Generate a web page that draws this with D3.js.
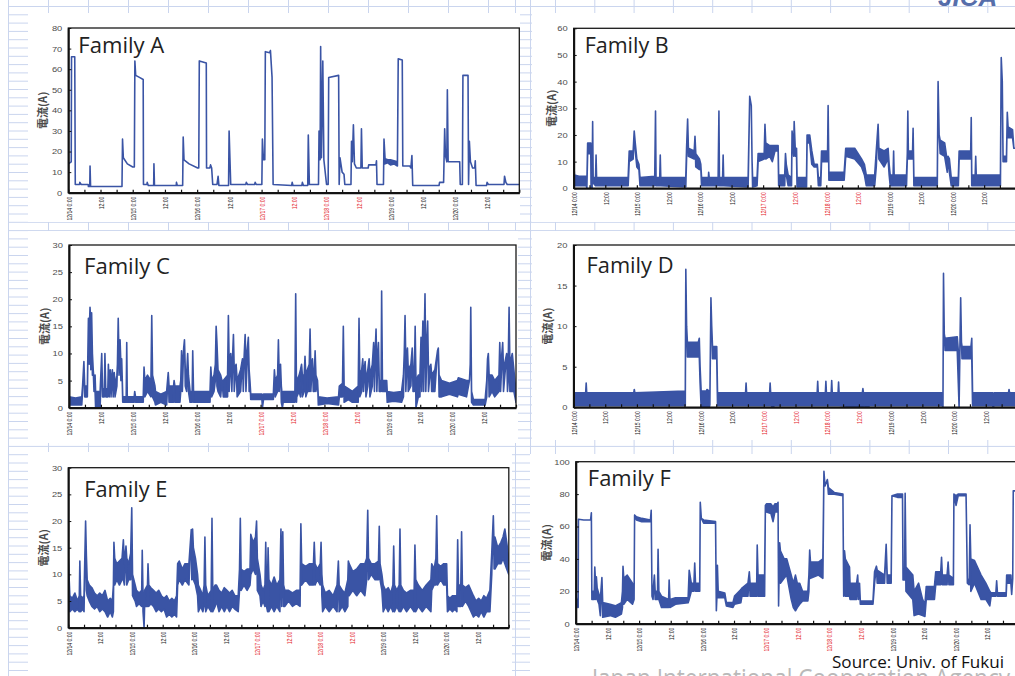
<!DOCTYPE html>
<html>
<head>
<meta charset="utf-8">
<script src="https://cdn.jsdelivr.net/npm/d3@7"></script>
<style>
  html, body { margin: 0; padding: 0; background: #fff; }
  svg { display: block; }
</style>
</head>
<body>
<svg id="chart" width="1015" height="676"></svg>
<script>
// Hours since 12/14 0:00; one labelled tick every 12 hours
const labelHours = [0, 12, 24, 36, 48, 60, 72, 84, 96, 108, 120, 132, 144, 156];
const tickLabels = ["12/14 0:00", "12:00", "12/15 0:00", "12:00", "12/16 0:00", "12:00",
                    "12/17 0:00", "12:00", "12/18 0:00", "12:00", "12/19 0:00", "12:00",
                    "12/20 0:00", "12:00"];
const weekendHours = [72, 84, 96, 108];

// Current readings, [hour, low, high]; a single value means low = high
const famA = [[0,14],[1.1,15],[1.2,66],[2.4,66],[2.6,4],[4.2,4],[4.3,5],[4.8,4],[7.4,4],[7.5,3],[8.0,3],[8.1,13],[8.3,3],
  [20.0,3],[20.2,26],[20.5,17],[22,14],[24,12.5],[24.6,12.5],[24.8,64],[25.1,57],[26.5,56],[27.9,55],[28.0,4],
  [29.3,4],[29.4,5],[29.8,3.5],[31.8,3.5],[31.9,14],[32.1,3.5],[40.2,3.5],[40.3,5],[40.6,3.5],[42.6,3.5],[42.8,27],
  [43.1,16],[45,14],[48.2,12],[48.6,12],[48.8,64],[51.4,63],[51.5,12],[52.7,12],[53,13.5],[53.4,12],[53.8,4],
  [55.4,4],[55.8,8],[56.1,3.5],[59.7,3.5],[59.9,30],[60.2,17],[60.5,4],[66.1,4],[66.3,5],[66.8,4],[69.4,4],[69.6,5],
  [70,4],[72.1,4],[72.3,26],[72.7,16],[73.2,16],[73.4,68.5],[75,68],[75.3,69],[75.9,56],[76.3,4],[83.2,3.5],[83.4,5],
  [83.7,3.5],[87,3.5],[87.2,5],[87.6,3.5],[89.2,3.5],[89.4,28],[89.8,4],[93.2,4],[93.4,30],[93.8,16],[94.0,71],
  [94.3,17],[94.8,64],[95.2,16],[96.2,4],[96.8,4],[97.0,56],[100.7,57],[100.9,4],[101.2,17],[102.0,10],[102.7,9],
  [103.0,4],[105.3,4],[105.5,25],[105.8,15],[106.2,33],[106.6,14],[107.3,12],[109.0,12],[109.2,31],[109.5,12],
  [111.7,12],[111.9,13.5],[114.6,13.5],[114.8,15.5],[115.0,4],[117.4,4],[117.6,26],[118.0,14,16.5],[119,14.5,16],
  [120,13.5,16],[121.3,14,15.5],[122.6,13,15],[122.9,65],[124.4,64.5],[124.6,13],[127.2,13],[127.6,12],[128.0,18],
  [128.3,3.5],[138.1,3.5],[138.3,5],[139.8,5],[140.2,31],[140.5,18],[141.0,15],[141.2,50],[141.5,15],[145.8,15],
  [146.0,4],[146.8,4],[147.0,57],[148.9,57],[149.1,4],[149.4,25],[149.8,15],[150.6,12],[151.4,12],[151.6,15.5],
  [151.9,3.5],[155.8,3.5],[156.0,5],[156.5,4],[162.3,4],[162.5,8],[163,5],[163.5,4],[168,4]];

const famB = [[0,5,10],[0.3,1,5],[2,1,4.5],[4.8,1,4.5],[5.0,0,2],[5.3,13,17],[6.5,13,17],[6.6,0,1],[7.0,0,3],[7.2,25],
  [7.4,2,4],[8.3,1,4],[8.5,12.5],[8.7,1,4],[14,1,4],[20.7,1,4],[21.1,10,14],[22.6,11,14],[23.0,21.5],[23.4,14,17],
  [24.0,8,11],[24.8,7,9],[25.2,1,4],[30.8,1,4.5],[31.1,29],[31.3,1,4],[32.7,1,4],[32.9,12.5],[33.1,1,4],[42.6,0.5,4],
  [42.9,11,15],[43.3,26],[43.6,12,15],[45.8,11,14],[46.1,19.5],[46.4,8,13],[47.8,7,11],[48.3,8,9],[48.6,1,4],
  [51.2,1,4],[51.3,6],[51.5,1,4],[54.9,1,4],[55.2,29],[55.4,1,4],[56.6,1,4],[56.8,12.5],[57,1,4],[66.3,0.5,4],
  [66.9,34.5],[67.5,31],[67.8,10],[68.0,0.5,4],[69.7,1,4],[70.1,10,13],[72.4,11,13],[72.7,24],[73.0,11,17],
  [74.5,12,16],[75.5,10,16],[76.5,14,16],[77.7,14,16],[77.9,1,5],[80.2,1,5],[80.5,13],[80.8,5,9],[81.5,1,5],
  [82.8,1,4],[83.0,21.5],[83.6,12,15],[83.8,25],[84.2,12,15],[84.7,12,15],[84.9,0.5,4],[88.5,0.5,4],[88.7,17,20],
  [89.7,17,20],[90.5,9,14],[91.4,8,9],[92.6,8,9],[93,1,4],[93.9,1,4],[94.2,10,14],[96.5,10,14],[96.7,31],[97.0,3,6],
  [102.8,3,6],[103.4,12,15],[106.8,11,15],[109.4,8,11],[110.5,5,9],[111.2,1,5],[114.4,1,5],[115,8,14],[115.7,24],
  [116,11,15],[118,8,14],[119.5,11,15],[119.9,5,9],[120.3,1,5],[121.4,1,5],[121.6,14],[121.8,1,5],[126.5,1,5],
  [126.8,11,13],[127.0,29],[127.2,11,14],[128.8,11,14],[129.0,22.5],[129.3,1,4],[138.2,1,4],[138.5,40],[138.9,20],
  [139.3,13,18],[141,12,17],[142.0,6,10],[142.3,12],[142.8,6,11],[143.5,1,4],[146.2,1,4],[146.5,11,14],[150.9,11,14],
  [151.1,26.5],[151.3,1,5],[152.6,1,5],[152.8,12],[153.0,1,5],[162.2,1,5],[162.5,49],[162.9,40],[163.2,10,12],
  [164.5,10,12],[164.8,28.5],[165.1,19,23],[166.8,19,22],[167.3,15],[168,15]];

const famC = [[0,0.5,2],[2.5,0.5,1.8],[4.8,0.5,2],[5.1,3,4],[5.6,8.5],[5.9,2,4],[6.9,2,4],
  [7.3,16.5],[7.6,8,14],[7.9,18.5],[8.2,7,16],[8.5,17.5],[8.8,6,10],[9.1,7],[9.4,3,5],[9.8,3,6],[10.0,0,3],[11.7,0,3],
  [12.3,10],[12.6,2,3.5],[13.3,2,3.5],[13.5,10],[13.8,2,3.5],[14.6,2,3.5],[14.8,8],[15.1,2,4],[15.5,7],[15.8,2,4],
  [16.3,7],[16.6,2,4],[17.0,6.5],[17.3,2,4],[18.0,4,6],[18.2,8],[18.5,16.5],[18.8,6,9],[19.2,12.5],[19.5,5,8],[19.8,9],
  [20.2,1,2],[21.5,1,2],[21.7,12],[21.9,1,2],[24.5,1,2],[24.7,3],[25,1,2],[27.9,1,2],
  [28.2,7.5],[28.5,2,5],[29.5,3,6],[30.8,2,5],[31.1,17],[31.4,2,6],[32.3,1,4],[32.5,0.5,3],[34.5,1,2.5],[36.7,0.5,3],
  [37.3,6.5],[37.6,1,4],[39.3,1,4],[39.5,5],[39.8,1,4],[41.7,1,4],
  [42.0,3,5],[42.3,10.5],[42.6,3,6],[43.1,11],[43.4,12.5],[43.7,4,7],[44.2,3,6],[44.6,10],[44.9,3,6],[45.5,1,3],
  [46.3,1,3],[46.5,10.5],[46.8,1,3],[53,1,3],
  [53.3,7.5],[53.6,2,5],[54.5,3,6],[55,5,8],[55.3,15],[55.6,4,12],[56,3,7],[57,2,6],[57.5,5],[58,2,5],[59.6,2,6],
  [59.9,17],[60.2,3,8],[60.8,10],[61.2,3,6],[61.8,13.5],[62.1,3,7],[62.8,8],[63.2,2,5],[64.5,3,7],[65.2,9],[65.5,3,6],
  [66.2,13.5],[66.5,3,8],[67.4,13],[67.7,3,7],[68,5],
  [68.3,1.5,2.5],[72.5,1.5,2.5],[72.7,0,2],[73.1,1.5,2.5],[76.8,1.5,2.5],
  [77.2,7],[77.5,2,5],[78.4,3,6],[78.7,12.5],[79,3,6],[79.5,8],[79.8,1,4],[80.2,0,2],[80.5,1,3],[84.9,1,3],[85.2,21],
  [85.5,1,3],[85.6,2,5],[86.5,3,6],[87.0,2,7],[87.4,8],[87.7,2,6],[88.4,3,6],[88.7,9.5],[89,2,6],[89.6,3,7],[90.3,3,8],
  [90.6,14.5],[90.9,3,7],[91.5,9],[91.8,3,6],[92.2,3,6],[92.5,10.5],[92.8,3,6],[93.4,5],
  [93.7,0.5,2],[97,0.8,1.8],[101.3,0.5,2],
  [101.6,2,4],[102.8,2,4.5],[103.1,15],[103.4,1,4],[105,1.5,3.5],[106.5,1,3],[108.7,1,4],[109,16.5],[109.3,2,6],
  [110,3,7],[110.4,9],[110.7,3,6],[111.3,8.5],[111.6,2,5],[112.3,4,7],[112.8,9],[113.1,2,6],[114,4,8],[114.5,12],
  [114.8,3,7],[115.4,14.5],[115.7,3,7],[116.3,12],[116.6,3,5],[117.3,3,5],[117.5,21.5],[117.8,3,5],[119.4,3,5],
  [119.6,1,3],[122,1.2,2.8],[125,1,3],
  [125.7,2,6],[126.0,10],[126.3,17],[126.6,3,8],[127.2,11],[127.5,3,7],[128.5,4,8],[129,11],[129.3,3,7],[129.8,3,6],
  [130.1,15],[130.4,0,5],[131.3,2,6],[131.9,2,6],[132.3,13],[132.6,3,7],[133.0,16],[133.3,3,7],[133.8,21],[134.1,3,8],
  [134.8,16],[135.1,3,7],[136,8],[136.3,3,6],[137.5,3,7],[138.5,10.5],[138.8,11],[139.1,2,6],[140,2,5],
  [143,2.5,4.5],[146,2,5],[146.3,2.5,5.5],[149.4,2,5],
  [150.5,5],[150.8,8],[151,18.5],[151.3,1,3],[152,0.5,1.5],[156.4,0.5,1.5],
  [157,2,5],[157.3,9],[157.6,10],[157.9,2,6],[159,3,6],[160,2,5],[161.6,3,6],[161.9,12],[162.2,3,7],[163.0,12],
  [163.3,3,7],[164.5,10],[164.8,3,7],[165.1,5,9],[165.4,18.5],[165.7,3,8],[166.6,3,10],[167.2,3,7],[168,1,3]];

const famD = [[0,0.2,1.8],[4.6,0.2,1.8],[4.8,0.2,3],[5.0,0.2,1.8],[22.8,0.2,1.8],[23.0,0.2,2.2],[23.2,0.2,1.8],
  [42.3,0.2,2],[42.5,17],[42.8,10],[43.1,6.2,8],[47.2,6.2,8],[47.6,6.2,8.5],[47.9,3,5],[48.3,0,2],[50.3,0,2],
  [50.5,0,2.2],[51.4,0,2],[51.6,0.3,1],[52,13.5],[52.3,10],[52.6,6,7.5],[54.2,6,7.5],[54.5,0.2,1.8],[65.1,0.2,1.8],
  [65.3,0.2,3],[65.5,0.2,1.8],[74.2,0.2,1.8],[74.4,0.2,3],[74.6,0.2,1.8],[75.6,0,1.8],[76,0.2,1.8],[92.2,0.2,1.8],
  [92.4,0.2,3.2],[92.6,0.2,1.8],[95.3,0.2,1.8],[95.5,0.2,3.2],[95.7,0.2,1.8],[97.5,0.2,1.8],[97.7,0.2,3.3],
  [97.9,0.2,1.8],[100.1,0.2,1.8],[100.3,0.2,3.1],[100.5,0.2,1.8],[109.3,0,1.8],[109.5,0,2.3],[109.7,0.2,1.8],
  [111.6,0,1.8],[112,0.2,1.8],[139.5,0.2,1.8],[139.8,0,1],[140,16.5],[140.3,9],[140.6,7,8.5],[145.2,7,8.7],
  [145.6,3,7],[145.9,0,1],[146.5,13.5],[146.8,8],[147,6,7.5],[150.4,6,7.5],[150.7,6,8.5],[151,0.2,1.8],
  [158.6,0.2,1.8],[158.8,0,1.5],[159.2,0.2,1.8],[164.6,0.2,1.8],[164.8,0.2,2.2],[165,0.2,1.8],[168,0.2,1.8]];

const famE = [[0,8,13],[0.6,3,6],[1.5,3.5,5.5],[2.5,3,6.5],[3.5,3.5,5],[4.2,3,6],[4.4,12.5],[4.7,3,6],[5.5,3.5,5.5],
  [6.0,3,6],[6.6,20],[6.9,7,13.5],[7.2,6,9],[8,5,8],[9,4,7.5],[10,3.5,6.5],[11,4,6],[12,3,6.5],[13,3.5,6],[14,3,7],
  [15,2,5],[16,3,5.5],[16.8,2,5],[17.2,3,8],[17.4,16],[17.7,8,13],[18.5,9,12],[19.5,8,12.5],[20.5,9,13],[21,9,16.5],
  [21.4,8,12],[22,15.3],[22.3,8,13],[23,9,12],[23.8,9,14],[24.2,22.5],[24.5,6,10],[25.5,5,8],[26,4,7],[27,4.5,6.5],
  [28.0,4,7],[28.2,14.5],[28.5,3,6],[28.9,0],[29.1,4,7],[30.2,4,8],[30.4,12],[30.7,4,8],[31.5,4.5,7.5],[32.5,4,7],
  [33.5,3,6.5],[34.5,3.5,7],[35.5,3,6],[36.5,3.5,5.5],[37.5,2,6],[38.5,2.5,5],[39.5,2,5.5],[40.5,2.5,5],[41.3,2,6],
  [41.7,8,12],[42.3,9,12.5],[43.5,8,11],[44.5,9,12],[46.0,8,12],[46.9,18.4],[47.1,9,14],[47.4,18.5],[47.7,9,15],
  [48.5,8,13],[49.3,6,10],[49.6,3,8],[50.5,4,7],[51.3,3,6],[51.8,4,8],[52.1,17],[52.4,3,8],[53.2,4,6],[54.5,3,7],
  [54.8,20.5],[55.1,3,7],[56,4,8],[56.5,5,8],[57.5,3,7],[58.5,4,6.5],[59.5,3,7.5],[60.5,4,7],[61.5,3,6.5],[62.5,4,7],
  [63.5,3.5,6],[64.8,3,6],[65.3,7,11],[65.6,20.5],[65.9,7,11],[67,8,10.5],[68.2,7,11],[69.3,8,11],[69.6,10,17.5],
  [70.5,11,16],[71.4,10,17],[71.8,20],[72.1,7,13],[73.1,6,10],[73.5,4,8],[74.3,5,7],[75.0,4,8],[75.3,16],[75.6,4,8],
  [76.0,3,9],[76.2,15],[76.5,3,9],[77.5,4,8],[78.5,3,9.5],[79.5,4,8],[80.7,3,9],[81.1,18.5],[81.4,4,10],[81.8,18],
  [82.1,4,8],[82.6,4,7],[84,5,7],[85.5,4,6.5],[87,4.5,7],[88.4,4,7],[88.7,19.5],[89,8,12],[90.5,9,11.5],[92,8,12],
  [93.5,8,12],[93.8,16],[94.1,8,12],[95,9,11],[96.1,8,12],[96.4,16],[96.7,6,10],[97,3,8],[98,4,6.5],[99.5,3,7],
  [101,4,6],[102.5,3,8],[103,12.5],[103.3,3,8],[104.5,4,7],[105.5,3,6.5],[106.6,4,9],[106.8,12.5],[107.1,6,12],
  [108.5,7,10.5],[110,6,11],[111.5,7,12],[113.1,6,12],[113.8,9,13],[114.2,22],[114.5,9,13],[115.5,10,12],[117,9,12],
  [118.3,9,12.5],[118.6,19],[118.9,9,12],[119.6,7,10],[120.1,3,8],[121,4,7],[122,3,7.5],[123,4,6.5],[123.8,3,8],
  [124.1,15.3],[124.4,3,8],[125.3,4,7],[126.2,3,8],[126.5,18.5],[126.8,3,8],[127.8,4,7],[129,3,6.5],[130.5,4,7],
  [131.9,3,7],[132.2,15.5],[132.5,3,9],[133.5,4,8],[135,3,7],[136.5,4,8],[138.3,3,9],[138.6,7,12],[139.5,8,11],
  [140.2,8,13],[140.5,21],[140.8,8,12],[142,9,11.5],[143.2,8,12],[144.3,8,12],[144.6,3,6],[145.5,3.5,5.5],[146.5,3,6],
  [147.4,3.5,6],[148.2,3,6],[148.5,16.5],[148.8,4,8],[149.7,4,8],[150.0,18],[150.3,4,8],[151.5,5,7.5],[152.7,4,8],
  [154.5,2,6],[155.5,2.5,5],[156.5,2,5.5],[157.5,3,5],[158.5,2,6],[159.5,3,5.5],[160.8,3,7],[161.5,10,14],[162.1,21],
  [162.4,11,15],[162.7,11,17],[163.8,12,15],[165,12,16],[165.8,13,17],[166.5,12,18.5],[167.2,11,16],[168,10,13]];

const famF = [[0,16,18],[0.8,10],[0.9,10],[1.0,64.5],[3,64],[5.6,64],[5.9,68.5],[6.1,15],[6.5,15,20],[7.0,15,20],
  [7.2,35],[7.5,15,25],[7.8,29],[8.1,15,22],[8.8,12,18],[9.3,5,15],[9.9,28.5],[10.2,4,13],[13,5,12],[15,4,11],
  [17.3,6,13],[17.7,10,20],[17.9,35.5],[18.2,12,28],[19.5,15,30],[21.5,12,25],[22.1,15],[22.3,67],[23,64,66],
  [25,63,65],[28.3,63,64],[28.6,70],[28.9,17],[29.3,15,20],[29.8,30],[30.1,15,20],[31,15,20],[31.2,46],[31.5,15,20],
  [32.5,10,17],[35.2,10,15],[35.4,27],[35.7,10,15],[37.8,12,16],[42.6,13,16],[43,15,33],[43.8,20,25],[44.8,20,25],
  [45.1,37.5],[45.4,20,25],[47,20,25],[47.2,75],[47.6,65],[48.5,62,64],[53,62,63],[53.3,8],[53.5,16,18],[53.7,36],
  [54,16,20],[56.5,16,19],[57.1,11,13],[59.6,10,13],[60.2,12,17],[62.6,13,21],[63,17,22],[65.3,17,25],[65.8,32],
  [66.1,17,25],[68.6,17,25],[68.8,48.5],[69.1,17,30],[71.6,17,30],[71.9,73],[72.3,69,74],[74,68,74],[74.8,63,72],
  [75.5,69,74],[76.5,69,74],[76.7,75],[76.9,11],[77.3,50],[77.6,25,45],[79,28,40],[80,30,40],[81.7,15,30],
  [82.5,10,25],[83.3,8,30],[84,10,25],[84.9,12,25],[86,14,20],[88,14,20],[88.4,20,30],[88.7,45.5],[89,28,38],
  [92,30,38],[93.7,28,40],[94.1,94],[94.5,85],[95.4,89],[95.8,80,84],[98,80,81],[101.3,79,80],[101.6,17],[101.9,45],
  [102.2,17,40],[103.8,17,35],[104,15,25],[106.5,15,25],[106.9,30],[107.2,15,20],[107.6,25],[107.9,12,14],
  [112.7,12,14],[113.3,25,32],[114,35.5],[114.3,25,33],[117.1,25,30],[117.7,49],[118.1,25,30],[119.6,25,30],
  [119.9,79],[122,78,80],[123.9,78,80],[124.1,27,33],[124.7,27,33],[124.9,80.5],[125.2,20,35],[127.8,15,30],
  [128.3,5,20],[130,6,25],[131.5,5,15],[132.4,4.5,12],[132.9,15,23],[136,15,23],[136.5,24,32],[138.4,24,32],
  [138.7,41],[139,24,30],[140.8,24,30],[141.2,38],[141.5,24,30],[143.2,24,28],[143.4,80],[144.2,73,79],[145,79,80],
  [148,79,80],[148.5,25],[149.2,24,28],[149.5,61],[149.8,20,40],[151.2,25,39],[153.7,15,30],[155.5,15,25],
  [157,11,20],[157.5,17,19],[159.3,17,19],[159.6,26.5],[159.9,17,19],[163.2,17,19],[163.4,25,30],[165,25,30],
  [165.3,18],[165.7,28],[165.9,82],[168,82]];

// Layout of the six charts: plot box, white chart card behind it, title placement
const panels = [
  { title: "Family A", data: famA, yMax: 80,  yStep: 10, plot: [68.3, 28, 451, 164.7],  card: [28, 13, 492, 209],  tdx: 10, tdy: 25, tlen: 86, ylx: -25 },
  { title: "Family B", data: famB, yMax: 60,  yStep: 10, plot: [573.7, 28.3, 442, 160], card: [532, 13, 483, 209], tdx: 11, tdy: 25, tlen: 84, ylx: -22 },
  { title: "Family C", data: famC, yMax: 30,  yStep: 5,  plot: [69, 245, 447, 162.7],   card: [28, 231, 490, 212], tdx: 15, tdy: 29, tlen: 86, ylx: -24 },
  { title: "Family D", data: famD, yMax: 20,  yStep: 5,  plot: [573.5, 245, 444, 162.3], card: [532, 231, 483, 209], tdx: 13, tdy: 28, tlen: 87, ylx: -25 },
  { title: "Family E", data: famE, yMax: 30,  yStep: 5,  plot: [68.3, 467.7, 440.5, 160], card: [28, 452, 484, 224], tdx: 16, tdy: 29, tlen: 83, ylx: -24 },
  { title: "Family F", data: famF, yMax: 100, yStep: 20, plot: [575.8, 461.7, 443, 162], card: [530, 454, 485, 222], tdx: 12, tdy: 24, tlen: 83, ylx: -29 }
];

const W = 1015, H = 676;
const lineBlue = "#3a54a5";
const gridBlue = "#cad5ee";
const svg = d3.select("#chart");

// Spreadsheet gridlines showing around the chart cards
const sheet = svg.append("g").attr("stroke", gridBlue).attr("stroke-width", 1);
const colX = d3.range(8.5, 520, 40).concat([515.5, 530.5]).concat(d3.range(555.5, W, 39.3));
sheet.selectAll("line.col").data(colX).join("line")
  .attr("x1", d => d).attr("x2", d => d).attr("y1", 0).attr("y2", H);
sheet.selectAll("line.row").data(d3.range(6.5, H, 8.3)).join("line")
  .attr("x1", 8).attr("x2", W).attr("y1", d => d).attr("y2", d => d);

// Logo fragment along the top edge
svg.append("text").attr("x", 938).attr("y", 6)
  .attr("font-family", "Liberation Sans, Arial, sans-serif").attr("font-weight", 700)
  .attr("font-style", "italic").attr("font-size", 26).attr("fill", "#2d4a96").attr("opacity", 0.8)
  .text("JICA");

panels.forEach((p, i) => {
  const [px, py, pw, ph] = p.plot;
  const [cx, cy, cw, ch] = p.card;
  const g = svg.append("g");

  g.append("rect").attr("x", cx).attr("y", cy).attr("width", cw).attr("height", ch).attr("fill", "#fff");

  const x = d3.scaleLinear().domain([0, 168]).range([px, px + pw]);
  const y = d3.scaleLinear().domain([0, p.yMax]).range([py + ph, py]);

  const clipId = "clip" + i;
  g.append("clipPath").attr("id", clipId)
    .append("rect").attr("x", px).attr("y", py - 1).attr("width", pw).attr("height", ph + 1);

  // low/high envelope of each reading; a zero-height envelope is drawn as a line by its stroke
  const area = d3.area()
    .x(d => x(d[0]))
    .y0(d => y(d[1]))
    .y1(d => y(d.length > 2 ? d[2] : d[1]));

  g.append("path").datum(p.data)
    .attr("clip-path", `url(#${clipId})`)
    .attr("d", area)
    .attr("fill", lineBlue).attr("stroke", lineBlue)
    .attr("stroke-width", 1.6).attr("stroke-linejoin", "round");

  // Plot frame: thin top/right, heavy axes below
  g.append("rect").attr("x", px).attr("y", py).attr("width", pw).attr("height", ph)
    .attr("fill", "none").attr("stroke", "#1a1a1a").attr("stroke-width", 1.3);

  const yAxis = d3.axisLeft(y)
    .tickValues(d3.range(0, p.yMax + 0.001, p.yStep))
    .tickSizeInner(-3).tickSizeOuter(0).tickPadding(0);
  const ya = g.append("g").attr("transform", `translate(${px},0)`).call(yAxis);
  ya.select(".domain").attr("stroke", "#111").attr("stroke-width", 2);
  ya.selectAll(".tick line").attr("stroke", "#111");
  ya.selectAll(".tick text")
    .attr("x", 0).attr("dy", "0.34em")
    .attr("transform", "translate(-6,0) scale(1.3,1)")
    .attr("font-family", "Liberation Sans, Arial, sans-serif")
    .attr("font-size", 7.2).attr("fill", "#4d4d4d");

  const labelOf = new Map(labelHours.map((h, k) => [h, tickLabels[k]]));
  const xAxis = d3.axisBottom(x)
    .tickValues(d3.range(0, 168.001, 6))
    .tickSizeInner(-3).tickSizeOuter(0).tickPadding(0)
    .tickFormat(h => labelOf.get(h) || "");
  const xa = g.append("g").attr("transform", `translate(0,${py + ph})`).call(xAxis);
  xa.select(".domain").attr("stroke", "#111").attr("stroke-width", 2);
  xa.selectAll(".tick line").attr("stroke", "#111").attr("stroke-width", 1.2);
  xa.selectAll(".tick text")
    .attr("x", null).attr("y", null).attr("dy", "0.35em")
    .attr("text-anchor", "end")
    .attr("transform", "translate(0,4) rotate(-90) scale(0.7,1.1)")
    .attr("font-family", "Liberation Sans, Arial, sans-serif")
    .attr("font-size", 7.2)
    .attr("fill", h => weekendHours.includes(h) ? "#e4232a" : "#222");

  g.append("text")
    .attr("transform", `translate(${px + p.ylx},${py + ph / 2}) rotate(-90)`)
    .attr("text-anchor", "middle").attr("dy", "0.35em")
    .attr("font-family", "Noto Sans CJK JP, sans-serif").attr("font-weight", 700)
    .attr("font-size", 11).attr("fill", "#4a4a4a")
    .text("電流(A)");

  g.append("text")
    .attr("x", px + p.tdx).attr("y", py + p.tdy)
    .attr("font-family", "Open Sans, sans-serif").attr("font-size", 21)
    .attr("fill", "#222")
    .attr("textLength", p.tlen).attr("lengthAdjust", "spacingAndGlyphs")
    .text(p.title);
});

// Footer: faded organisation name and the data source
svg.append("text").attr("x", 592).attr("y", 687)
  .attr("font-family", "Open Sans, sans-serif").attr("font-size", 26)
  .attr("fill", "#b9b9b9")
  .attr("textLength", 418).attr("lengthAdjust", "spacingAndGlyphs")
  .text("Japan International Cooperation Agency");
svg.append("text").attr("x", 832).attr("y", 668)
  .attr("font-family", "Open Sans, sans-serif").attr("font-size", 17)
  .attr("fill", "#111")
  .attr("textLength", 172).attr("lengthAdjust", "spacingAndGlyphs")
  .text("Source: Univ. of Fukui");
</script>
</body>
</html>
